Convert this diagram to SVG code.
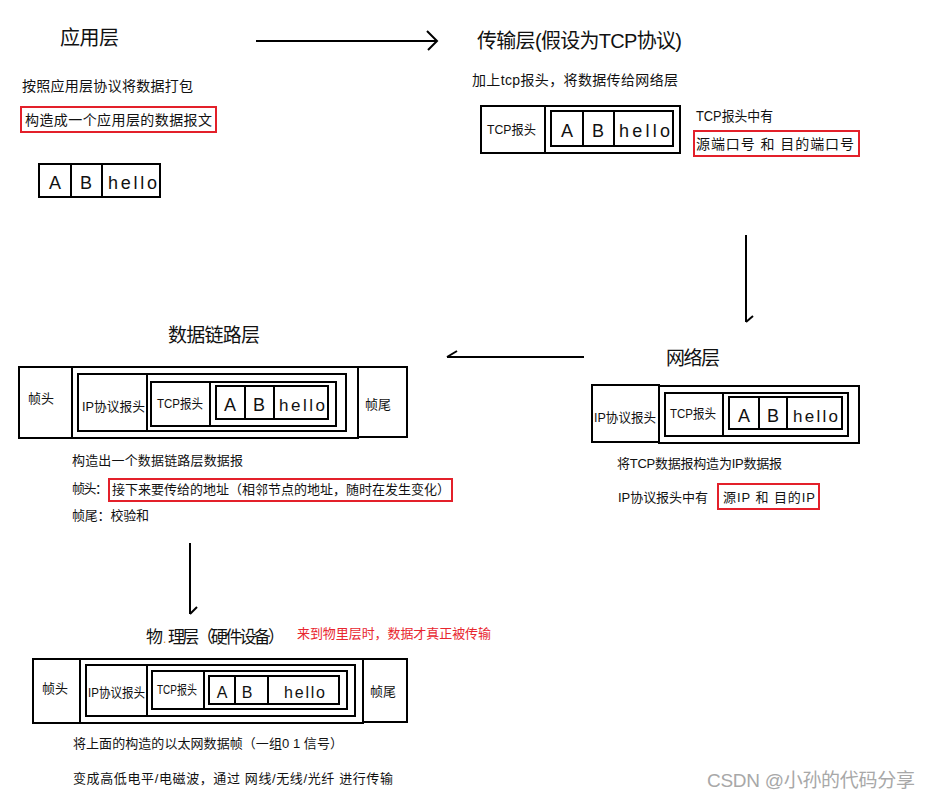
<svg xmlns="http://www.w3.org/2000/svg" width="932" height="800" viewBox="0 0 932 800">
<style>
text{font-family:"Liberation Sans","Noto Sans CJK SC",sans-serif;fill:#111}
.title{font-size:20px}
.t14{font-size:14px}
.t13{font-size:13px}
.cell{font-size:18px}
.box{fill:none;stroke:#000;stroke-width:2}
.red{fill:none;stroke:#e3202a;stroke-width:2}
.conn{fill:none;stroke:#000;stroke-width:2}
</style>
<rect width="932" height="800" fill="#fff"/>

<g id="app-layer">
<text class="title" x="60" y="45" textLength="59" lengthAdjust="spacing">应用层</text>
<text class="t14" x="22" y="91" textLength="171" lengthAdjust="spacing">按照应用层协议将数据打包</text>
<rect class="red" x="21" y="107" width="195" height="25"/>
<text class="t14" x="25" y="125" textLength="187" lengthAdjust="spacing">构造成一个应用层的数据报文</text>
<rect class="box" x="39" y="164" width="121" height="33"/>
<line class="box" x1="71" y1="164" x2="71" y2="197"/>
<line class="box" x1="102" y1="164" x2="102" y2="197"/>
<text class="cell" x="55" y="189" text-anchor="middle">A</text>
<text class="cell" x="86" y="189" text-anchor="middle">B</text>
<text class="cell" x="108" y="189" textLength="49" lengthAdjust="spacing">hello</text>
</g>

<g id="transport-layer">
<text class="title" x="477" y="48" textLength="205" lengthAdjust="spacing">传输层(假设为TCP协议)</text>
<text class="t14" x="472" y="85" textLength="206" lengthAdjust="spacing">加上tcp报头，将数据传给网络层</text>
<rect class="box" x="481" y="106" width="64" height="47"/>
<rect class="box" x="545" y="106" width="135" height="47"/>
<rect class="box" x="551" y="111" width="122" height="35"/>
<line class="box" x1="583" y1="111" x2="583" y2="146"/>
<line class="box" x1="614" y1="111" x2="614" y2="146"/>
<text class="t13" x="487" y="134" textLength="49" lengthAdjust="spacingAndGlyphs">TCP报头</text>
<text class="cell" x="567" y="137" text-anchor="middle">A</text>
<text class="cell" x="598" y="137" text-anchor="middle">B</text>
<text class="cell" x="619" y="137" textLength="51" lengthAdjust="spacing">hello</text>
<text class="t14" x="696" y="121" textLength="77" lengthAdjust="spacingAndGlyphs">TCP报头中有</text>
<rect class="red" x="694" y="131" width="165" height="25"/>
<text class="t14" x="696" y="149" textLength="158" lengthAdjust="spacing">源端口号 和 目的端口号</text>
</g>

<g id="network-layer">
<text class="title" x="666" y="365" style="font-size:19px" textLength="54" lengthAdjust="spacing">网络层</text>
<rect class="box" x="592" y="385" width="67" height="57"/>
<rect class="box" x="659" y="386" width="200" height="57"/>
<rect class="box" x="665" y="393" width="183" height="43"/>
<line class="box" x1="723" y1="393" x2="723" y2="436"/>
<rect class="box" x="729" y="397" width="113" height="32"/>
<line class="box" x1="759" y1="397" x2="759" y2="429"/>
<line class="box" x1="787" y1="397" x2="787" y2="429"/>
<text class="t13" x="594" y="422" textLength="62" lengthAdjust="spacingAndGlyphs">IP协议报头</text>
<text class="t13" x="670" y="418" textLength="46" lengthAdjust="spacingAndGlyphs">TCP报头</text>
<text class="cell" x="744" y="422" text-anchor="middle">A</text>
<text class="cell" x="773" y="422" text-anchor="middle">B</text>
<text class="cell" x="793" y="422" style="font-size:17px" textLength="45" lengthAdjust="spacing">hello</text>
<text class="t13" x="617" y="468" textLength="165" lengthAdjust="spacing">将TCP数据报构造为IP数据报</text>
<text class="t13" x="618" y="502" textLength="90" lengthAdjust="spacing">IP协议报头中有</text>
<rect class="red" x="718" y="484" width="101" height="25"/>
<text class="t13" x="723" y="502" textLength="92" lengthAdjust="spacing">源IP 和 目的IP</text>
</g>

<g id="datalink-layer">
<text class="title" x="168" y="342" style="font-size:19px" textLength="92" lengthAdjust="spacing">数据链路层</text>
<rect class="box" x="19" y="367" width="53" height="71"/>
<rect class="box" x="72" y="367" width="286" height="71"/>
<rect class="box" x="358" y="367" width="49" height="70"/>
<rect class="box" x="78" y="374" width="268" height="57"/>
<line class="box" x1="147" y1="374" x2="147" y2="431"/>
<rect class="box" x="151" y="382" width="185" height="44"/>
<line class="box" x1="210" y1="382" x2="210" y2="426"/>
<rect class="box" x="216" y="386" width="112" height="33"/>
<line class="box" x1="245" y1="386" x2="245" y2="419"/>
<line class="box" x1="274" y1="386" x2="274" y2="419"/>
<text class="t13" x="28" y="403">帧头</text>
<text class="t13" x="82" y="411" textLength="63" lengthAdjust="spacingAndGlyphs">IP协议报头</text>
<text class="t13" x="157" y="408" textLength="46" lengthAdjust="spacingAndGlyphs">TCP报头</text>
<text class="cell" x="230" y="411" text-anchor="middle">A</text>
<text class="cell" x="259" y="411" text-anchor="middle">B</text>
<text class="cell" x="279" y="411" style="font-size:17px" textLength="46" lengthAdjust="spacing">hello</text>
<text class="t13" x="365" y="409">帧尾</text>
<text class="t13" x="72" y="465" textLength="171" lengthAdjust="spacing">构造出一个数据链路层数据报</text>
<text class="t13" x="72" y="493" textLength="36" lengthAdjust="spacing">帧头：</text>
<rect class="red" x="109" y="479" width="343" height="22"/>
<text class="t13" x="112" y="494" textLength="338" lengthAdjust="spacing">接下来要传给的地址（相邻节点的地址，随时在发生变化）</text>
<text class="t13" x="72" y="520" textLength="77" lengthAdjust="spacing">帧尾：校验和</text>
</g>

<g id="physical-layer">
<text x="146" y="643" style="font-size:17px">物</text>
<text x="163" y="643" style="font-size:12px;fill:#e08a2a">.</text>
<text x="168" y="643" style="font-size:17px" textLength="117" lengthAdjust="spacing">理层（硬件设备）</text>
<text class="t13" x="297" y="638" style="fill:#e8262e" textLength="194" lengthAdjust="spacing">来到物里层时，数据才真正被传输</text>
<rect class="box" x="33" y="659" width="47" height="64"/>
<rect class="box" x="80" y="659" width="283" height="64"/>
<rect class="box" x="363" y="659" width="44" height="63"/>
<rect class="box" x="86" y="665" width="269" height="51"/>
<line class="box" x1="147" y1="665" x2="147" y2="716"/>
<rect class="box" x="152" y="671" width="195" height="38"/>
<line class="box" x1="204" y1="671" x2="204" y2="709"/>
<rect class="box" x="209" y="676" width="130" height="28"/>
<line class="box" x1="235" y1="676" x2="235" y2="704"/>
<line class="box" x1="268" y1="676" x2="268" y2="704"/>
<text class="t13" x="42" y="693">帧头</text>
<text class="t13" x="88" y="697" textLength="57" lengthAdjust="spacingAndGlyphs">IP协议报头</text>
<text class="t13" x="157" y="694" textLength="40" lengthAdjust="spacingAndGlyphs">TCP报头</text>
<text class="cell" x="222" y="698" text-anchor="middle" style="font-size:16px">A</text>
<text class="cell" x="247" y="698" text-anchor="middle" style="font-size:16px">B</text>
<text class="cell" x="284" y="698" style="font-size:16px" textLength="41" lengthAdjust="spacing">hello</text>
<text class="t13" x="370" y="696">帧尾</text>
<text class="t13" x="73" y="748" textLength="270" lengthAdjust="spacing">将上面的构造的以太网数据帧（一组0 1 信号）</text>
<text class="t13" x="73" y="783" textLength="320" lengthAdjust="spacing">变成高低电平/电磁波，通过 网线/无线/光纤 进行传输</text>
</g>

<g id="connectors">
<line class="conn" x1="256" y1="41" x2="437" y2="41"/>
<polyline class="conn" points="427,31 437,41 428,50"/>
<line class="conn" x1="746" y1="235" x2="746" y2="322"/>
<line class="conn" x1="746" y1="322" x2="753" y2="316"/>
<line class="conn" x1="584" y1="357" x2="447" y2="357"/>
<line class="conn" x1="447" y1="357" x2="457" y2="351"/>
<line class="conn" x1="190" y1="543" x2="190" y2="614"/>
<line class="conn" x1="190" y1="614" x2="197" y2="607"/>
</g>

<text x="707" y="787" style="font-size:19px;fill:#a8a8a8" textLength="208" lengthAdjust="spacing">CSDN @小孙的代码分享</text>
</svg>
